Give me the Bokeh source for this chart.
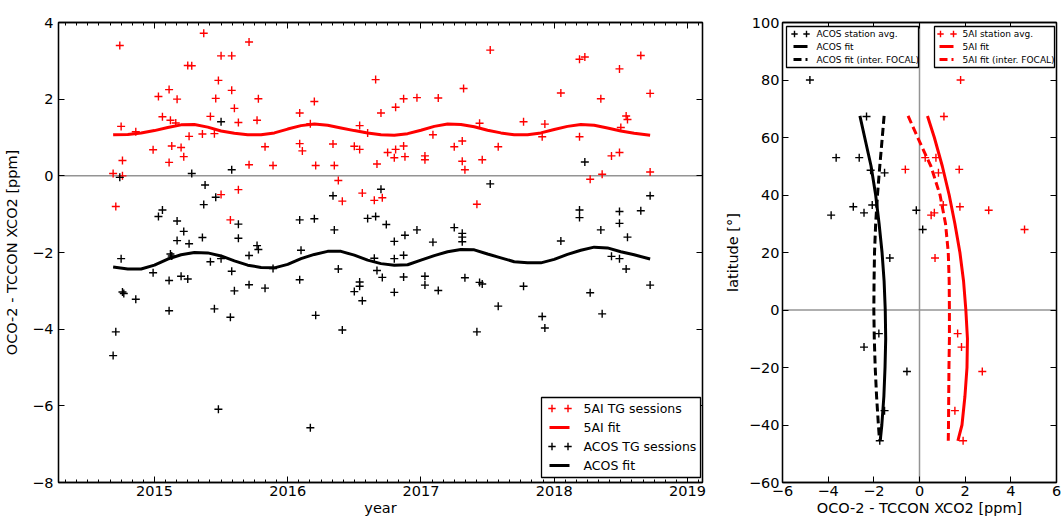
from bokeh.plotting import figure
from bokeh.layouts import row
from bokeh.models import (Range1d, FixedTicker, LinearAxis, CustomJSTickFormatter,
                          CustomLabelingPolicy, Span, BoxAnnotation, Label, Arrow)
from bokeh.embed import file_html
from bokeh.resources import INLINE

FONT = "DejaVu Sans"
RED = "#ff0000"
BLACK = "#000000"
ZERO_GREY = "#949494"

# ---------------------------------------------------------------------------
# Time series: OCO-2 minus TCCON XCO2 per target-mode session
# ---------------------------------------------------------------------------
ai_tg_year = [
    2014.74, 2014.69, 2014.71, 2014.75, 2014.76, 2014.76, 2014.86, 2014.99, 2015.03, 2015.06,
    2015.11, 2015.11, 2015.12, 2015.13, 2015.16, 2015.17, 2015.20, 2015.22, 2015.25, 2015.28,
    2015.26, 2015.36, 2015.37, 2015.42, 2015.45, 2015.46, 2015.48, 2015.50, 2015.50, 2015.58,
    2015.58, 2015.57, 2015.60, 2015.63, 2015.63, 2015.71, 2015.71, 2015.78, 2015.77, 2015.83,
    2015.89, 2016.09, 2016.09, 2016.11, 2016.17, 2016.20, 2016.21, 2016.34, 2016.35, 2016.38,
    2016.41, 2016.50, 2016.54, 2016.54, 2016.56, 2016.60, 2016.65, 2016.66, 2016.67, 2016.70,
    2016.71, 2016.75, 2016.80, 2016.81, 2016.81, 2016.87, 2016.87, 2016.88, 2016.97, 2017.03,
    2017.03, 2017.09, 2017.13, 2017.25, 2017.31, 2017.31, 2017.32, 2017.33, 2017.42, 2017.44,
    2017.46, 2017.52, 2017.58, 2017.77, 2017.93, 2017.91, 2018.05, 2018.19, 2018.19, 2018.23,
    2018.27, 2018.36, 2018.35, 2018.43, 2018.49, 2018.49, 2018.50, 2018.54, 2018.55, 2018.65,
    2018.72, 2018.72,
]
ai_tg_diff = [
    3.40, 0.06, -0.80, 1.29, 0.40, 0.00, 1.15, 0.68, 2.07, 1.54,
    2.25, 0.35, 1.45, 0.78, 1.38, 2.00, 0.74, 0.50, 2.88, 2.87,
    1.03, 1.09, 3.72, 1.55, 1.10, 2.02, 2.49, 3.13, -0.49, 3.13,
    2.23, -1.15, 1.76, 1.39, -0.36, 3.49, 0.29, 2.01, 1.45, 0.76,
    0.27, 1.64, 0.84, 0.65, 1.36, 1.94, 0.27, 0.83, 0.27, -0.12,
    -0.66, 0.77, 0.69, 1.31, -0.45, 1.12, -0.64, 2.51, 0.31, 1.64,
    -0.57, 0.61, 0.47, 0.69, 1.79, 2.01, 0.78, 0.50, 2.04, 0.52,
    0.42, 1.07, 2.03, 0.76, 0.91, 0.38, 2.28, 0.16, -0.74, 1.37,
    0.42, 3.28, 0.76, 1.41, 1.35, 1.02, 2.16, 1.02, 3.04, 3.10,
    -0.09, 0.04, 2.01, 0.52, 0.61, 2.79, 1.26, 1.56, 1.47, 3.14,
    2.15, 0.10,
]

acos_tg_year = [
    2014.74, 2014.75, 2014.76, 2014.77, 2014.71, 2014.69, 2014.86, 2014.99, 2015.03, 2015.06,
    2015.11, 2015.11, 2015.12, 2015.13, 2015.17, 2015.17, 2015.20, 2015.22, 2015.25, 2015.26,
    2015.28, 2015.36, 2015.38, 2015.37, 2015.42, 2015.45, 2015.46, 2015.48, 2015.50, 2015.50,
    2015.58, 2015.58, 2015.57, 2015.60, 2015.63, 2015.63, 2015.71, 2015.71, 2015.77, 2015.78,
    2015.83, 2015.89, 2016.09, 2016.10, 2016.09, 2016.17, 2016.20, 2016.21, 2016.34, 2016.35,
    2016.38, 2016.41, 2016.50, 2016.54, 2016.54, 2016.56, 2016.60, 2016.66, 2016.65, 2016.67,
    2016.70, 2016.71, 2016.74, 2016.80, 2016.80, 2016.80, 2016.87, 2016.87, 2016.88, 2016.97,
    2017.03, 2017.03, 2017.09, 2017.13, 2017.25, 2017.31, 2017.31, 2017.31, 2017.33, 2017.42,
    2017.44, 2017.46, 2017.52, 2017.58, 2017.77, 2017.91, 2017.93, 2018.05, 2018.19, 2018.19,
    2018.23, 2018.27, 2018.35, 2018.36, 2018.43, 2018.49, 2018.49, 2018.49, 2018.54, 2018.55,
    2018.65, 2018.72, 2018.72,
]
acos_tg_diff = [
    -0.04, -2.16, -3.03, -3.07, -4.07, -4.69, -3.22, -2.53, -1.06, -0.89,
    -2.73, -3.52, -2.04, -2.09, -1.69, -1.18, -2.62, -1.45, -2.69, -1.77,
    0.06, -1.61, -0.24, -0.75, -2.24, -3.47, -0.56, -6.09, 1.41, -2.16,
    0.16, -2.49, -3.69, -3.00, -1.26, -1.63, -2.08, -2.84, -1.82, -1.92,
    -2.93, -2.42, -1.15, -1.94, -2.71, -6.57, -1.12, -3.64, -0.52, -1.41,
    -2.43, -4.02, -3.02, -2.77, -2.88, -3.26, -1.11, -1.06, -2.15, -2.47,
    -0.35, -2.65, -1.27, -1.71, -2.16, -3.04, -2.07, -2.64, -1.55, -1.41,
    -2.62, -2.85, -1.73, -2.99, -1.35, -1.50, -1.60, -1.72, -2.66, -4.07,
    -2.78, -2.82, -0.21, -3.40, -2.88, -3.67, -3.97, -1.70, -1.09, -0.89,
    0.36, -3.05, -1.41, -3.60, -2.10, -0.93, -1.24, -2.16, -2.43, -1.60,
    -0.91, -0.52, -2.85,
]

# seasonal fits
ai_fit_year = [
    2014.69, 2014.80, 2014.90, 2015.00, 2015.10, 2015.20, 2015.30, 2015.40, 2015.50, 2015.60,
    2015.70, 2015.80, 2015.90, 2016.00, 2016.10, 2016.20, 2016.30, 2016.40, 2016.50, 2016.60,
    2016.70, 2016.80, 2016.90, 2017.00, 2017.10, 2017.20, 2017.30, 2017.40, 2017.50, 2017.60,
    2017.70, 2017.80, 2017.90, 2018.00, 2018.10, 2018.20, 2018.30, 2018.40, 2018.50, 2018.60,
    2018.72,
]
ai_fit_diff = [
    1.07, 1.08, 1.12, 1.18, 1.26, 1.33, 1.34, 1.27, 1.17, 1.11,
    1.07, 1.07, 1.12, 1.22, 1.31, 1.35, 1.32, 1.25, 1.18, 1.12,
    1.07, 1.06, 1.10, 1.19, 1.29, 1.35, 1.34, 1.28, 1.19, 1.12,
    1.07, 1.07, 1.12, 1.21, 1.29, 1.34, 1.32, 1.25, 1.17, 1.11,
    1.06,
]
acos_fit_year = [
    2014.69, 2014.80, 2014.90, 2015.00, 2015.10, 2015.20, 2015.30, 2015.40, 2015.50, 2015.60,
    2015.70, 2015.80, 2015.90, 2016.00, 2016.10, 2016.20, 2016.30, 2016.40, 2016.50, 2016.60,
    2016.70, 2016.80, 2016.90, 2017.00, 2017.10, 2017.20, 2017.30, 2017.40, 2017.50, 2017.60,
    2017.70, 2017.80, 2017.90, 2018.00, 2018.10, 2018.20, 2018.30, 2018.40, 2018.50, 2018.60,
    2018.72,
]
acos_fit_diff = [
    -2.38, -2.43, -2.43, -2.33, -2.17, -2.06, -2.00, -2.01, -2.09, -2.22,
    -2.33, -2.39, -2.40, -2.31, -2.16, -2.05, -1.97, -1.97, -2.07, -2.20,
    -2.29, -2.33, -2.32, -2.20, -2.08, -1.98, -1.92, -1.93, -2.04, -2.14,
    -2.24, -2.27, -2.27, -2.18, -2.05, -1.94, -1.86, -1.88, -1.98, -2.06,
    -2.17,
]

year_ticks = [2015, 2016, 2017, 2018, 2019]
diff_ticks = [-8, -6, -4, -2, 0, 2, 4]

# ---------------------------------------------------------------------------
# Latitude profile: station averages
# ---------------------------------------------------------------------------
acos_st_lat = [80.0, 67.3, 53.0, 53.0, 48.6, 47.7, 36.5, 35.9, 34.7, 33.8,
               33.0, 28.0, 18.1, -8.2, -12.9, -21.4, -35.0, -45.5]
acos_st_diff = [-4.80, -2.32, -3.65, -2.64, -2.14, -1.53, -2.07, -2.90, -0.14, -2.43,
                -3.87, 0.14, -1.30, -1.78, -2.43, -0.55, -1.53, -1.74]
ai_st_lat = [80.0, 67.3, 53.0, 53.0, 48.9, 48.9, 47.7, 36.5, 35.9, 34.7,
             33.8, 33.0, 28.0, 18.1, -8.2, -12.9, -21.4, -35.0, -45.5]
ai_st_diff = [1.80, 1.07, 0.25, 0.72, -0.62, 1.74, 0.83, 1.04, 1.77, 3.03,
              0.65, 0.51, 4.60, 0.68, 1.67, 1.84, 2.75, 1.55, 1.91]

fit_lat = [67.5, 60, 50, 40, 30, 20, 10, 0, -10, -20, -30, -40, -45.5]
acos_lat_fit = [-2.61, -2.40, -2.12, -1.92, -1.77, -1.64, -1.55, -1.50, -1.48, -1.51, -1.56, -1.65, -1.72]
acos_lat_fit_focal = [-1.55, -1.63, -1.74, -1.84, -1.92, -1.97, -1.99, -2.00, -1.98, -1.94, -1.88, -1.80, -1.75]
ai_lat_fit = [0.35, 0.65, 1.00, 1.30, 1.55, 1.77, 1.93, 2.03, 2.10, 2.08, 1.99, 1.86, 1.68]
ai_lat_fit_focal = [-0.50, -0.08, 0.50, 0.90, 1.14, 1.26, 1.30, 1.31, 1.31, 1.29, 1.28, 1.27, 1.26]

diff_ticks_x = [-6, -4, -2, 0, 2, 4, 6]
lat_ticks = [-60, -40, -20, 0, 20, 40, 60, 80, 100]

# ---------------------------------------------------------------------------
# helpers
# ---------------------------------------------------------------------------
FMT_CODE = "return (tick < 0 ? '\\u2212' : '') + Math.abs(tick).toString();"
# mirrored axes on the top/right carry tick marks only
NO_LABELS = "for (const i of indices) { indices.unset(i) } return indices"


def style_axis(ax, ticks, minor=None, show_labels=True, label=None,
               label_standoff=4, axis_label_standoff=4):
    ax.ticker = FixedTicker(ticks=ticks, minor_ticks=minor or [])
    ax.formatter = CustomJSTickFormatter(code=FMT_CODE)
    ax.axis_line_color = BLACK
    ax.axis_line_width = 1.3
    ax.major_tick_in = 6
    ax.major_tick_out = 0
    ax.minor_tick_in = 3
    ax.minor_tick_out = 0
    ax.major_tick_line_color = BLACK
    ax.minor_tick_line_color = BLACK if minor else None
    ax.major_tick_line_width = 1
    ax.minor_tick_line_width = 1
    ax.major_label_text_font = FONT
    ax.major_label_text_color = BLACK
    if show_labels:
        ax.major_label_text_font_size = "14.5px"
        ax.major_label_standoff = label_standoff
    else:
        ax.major_label_text_font_size = "1px"
        ax.major_label_standoff = 0
        ax.major_label_policy = CustomLabelingPolicy(code=NO_LABELS)
    ax.axis_label = label
    ax.axis_label_text_font = FONT
    ax.axis_label_text_font_size = "14.5px"
    ax.axis_label_text_font_style = "normal"
    ax.axis_label_text_color = BLACK
    ax.axis_label_standoff = axis_label_standoff


def make_legend(p, frame_left, frame_bottom, box, entries, font_size, mark_xs,
                line_x, text_x, half):
    """Legend drawn with screen-unit annotations; positions are canvas pixels."""
    sx = lambda X: X - frame_left
    sy = lambda Y: frame_bottom - Y
    l, r, t, b = box
    p.add_layout(BoxAnnotation(left=sx(l), right=sx(r), top=sy(t), bottom=sy(b),
                               left_units="screen", right_units="screen",
                               top_units="screen", bottom_units="screen",
                               fill_color="white", fill_alpha=1.0,
                               line_color=BLACK, line_width=1.3, line_alpha=1.0))
    for (kind, color, text, Y) in entries:
        if kind == "marker":
            for X in mark_xs:
                p.add_layout(Arrow(x_start=sx(X - half), y_start=sy(Y), x_end=sx(X + half), y_end=sy(Y),
                                   start_units="screen", end_units="screen", start=None, end=None,
                                   line_color=color, line_width=1.4))
                p.add_layout(Arrow(x_start=sx(X), y_start=sy(Y - half), x_end=sx(X), y_end=sy(Y + half),
                                   start_units="screen", end_units="screen", start=None, end=None,
                                   line_color=color, line_width=1.4))
        else:
            p.add_layout(Arrow(x_start=sx(line_x[0]), y_start=sy(Y), x_end=sx(line_x[1]), y_end=sy(Y),
                               start_units="screen", end_units="screen", start=None, end=None,
                               line_color=color, line_width=3,
                               line_dash="solid" if kind == "solid" else "8 4"))
        p.add_layout(Label(x=sx(text_x), y=sy(Y), x_units="screen", y_units="screen", text=text,
                           text_font=FONT, text_font_size=font_size, text_color=BLACK,
                           text_baseline="middle", text_align="left"))


def base_figure(width, x_range, y_range, border_left, border_right):
    p = figure(width=width, height=521, x_range=x_range, y_range=y_range,
               output_backend="svg", toolbar_location=None,
               min_border_left=border_left, min_border_right=border_right,
               min_border_top=22, min_border_bottom=39)
    p.grid.visible = False
    p.outline_line_color = BLACK
    p.outline_line_width = 1.3
    p.background_fill_color = "white"
    p.border_fill_color = "white"
    return p


# ---------------------------------------------------------------------------
# left panel: time series
# ---------------------------------------------------------------------------
p1 = base_figure(712, Range1d(2014.28, 2019.113), Range1d(-8, 4), 58, 10)
month_ticks = [y + m / 12 for y in range(2014, 2020) for m in range(12)]
style_axis(p1.below[0], year_ticks, minor=month_ticks, label="year",
           label_standoff=3, axis_label_standoff=1)
style_axis(p1.left[0], diff_ticks, label="OCO-2 - TCCON XCO2 [ppm]",
           label_standoff=5, axis_label_standoff=9)
top1 = LinearAxis()
style_axis(top1, year_ticks, minor=month_ticks, show_labels=False)
p1.add_layout(top1, "above")
right1 = LinearAxis()
style_axis(right1, diff_ticks, show_labels=False)
p1.add_layout(right1, "right")

p1.add_layout(Span(location=0, dimension="width", line_color=ZERO_GREY, line_width=1.5,
                   level="underlay"))

p1.scatter(ai_tg_year, ai_tg_diff, marker="cross", size=8, line_color=RED, line_width=1.4)
p1.line(ai_fit_year, ai_fit_diff, line_color=RED, line_width=3)
p1.scatter(acos_tg_year, acos_tg_diff, marker="cross", size=8, line_color=BLACK, line_width=1.4)
p1.line(acos_fit_year, acos_fit_diff, line_color=BLACK, line_width=3)

make_legend(p1, 58, 482, (541, 700, 397, 477),
            [("marker", RED, "5AI TG sessions", 408),
             ("solid", RED, "5AI fit", 427),
             ("marker", BLACK, "ACOS TG sessions", 446),
             ("solid", BLACK, "ACOS fit", 465)],
            "12.5px", (551.5, 567.5), (549, 569), 583, 3.7)

# ---------------------------------------------------------------------------
# right panel: latitude profile
# ---------------------------------------------------------------------------
p2 = base_figure(349, Range1d(-6, 6), Range1d(-60, 100), 70, 2)
style_axis(p2.below[0], diff_ticks_x, label="OCO-2 - TCCON XCO2 [ppm]",
           label_standoff=3, axis_label_standoff=1)
style_axis(p2.left[0], lat_ticks, label="latitude [°]",
           label_standoff=3, axis_label_standoff=5)
top2 = LinearAxis()
style_axis(top2, diff_ticks_x, show_labels=False)
p2.add_layout(top2, "above")
right2 = LinearAxis()
style_axis(right2, lat_ticks, show_labels=False)
p2.add_layout(right2, "right")

p2.add_layout(Span(location=0, dimension="width", line_color=ZERO_GREY, line_width=1.5,
                   level="underlay"))
p2.add_layout(Span(location=0, dimension="height", line_color=ZERO_GREY, line_width=1.5,
                   level="underlay"))

p2.scatter(acos_st_diff, acos_st_lat, marker="cross", size=8, line_color=BLACK, line_width=1.4)
p2.line(acos_lat_fit, fit_lat, line_color=BLACK, line_width=3)
p2.line(acos_lat_fit_focal, fit_lat, line_color=BLACK, line_width=3, line_dash="8 4")
p2.scatter(ai_st_diff, ai_st_lat, marker="cross", size=8, line_color=RED, line_width=1.4)
p2.line(ai_lat_fit, fit_lat, line_color=RED, line_width=3)
p2.line(ai_lat_fit_focal, fit_lat, line_color=RED, line_width=3, line_dash="8 4")

make_legend(p2, 782, 482, (786, 918, 26, 67),
            [("marker", BLACK, "ACOS station avg.", 33.5),
             ("solid", BLACK, "ACOS fit", 46),
             ("dashed", BLACK, "ACOS fit (inter. FOCAL)", 59)],
            "9px", (794, 806), (793, 807), 816, 3.2)
make_legend(p2, 782, 482, (934, 1054, 26, 67),
            [("marker", RED, "5AI station avg.", 33.5),
             ("solid", RED, "5AI fit", 46),
             ("dashed", RED, "5AI fit (inter. FOCAL)", 59)],
            "9px", (940, 953), (939, 953), 962, 3.2)

layout = row(p1, p2)
open("out.html", "w").write(file_html(layout, INLINE))
